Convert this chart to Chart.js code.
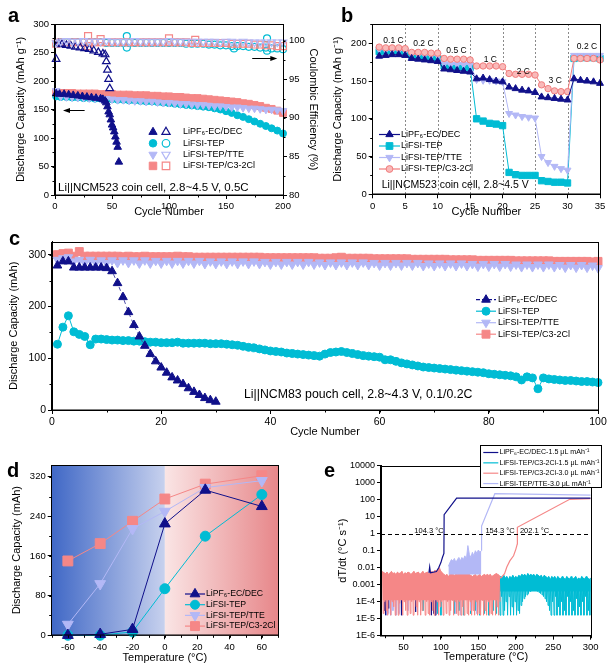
<!DOCTYPE html>
<html>
<head>
<meta charset="utf-8">
<script src="https://cdn.jsdelivr.net/npm/chart.js@4.4.0/dist/chart.umd.min.js"></script>
<style>
  body { margin: 0; background: #fff; }
  #page { position: relative; width: 614px; height: 665px; overflow: hidden; font-family: 'Liberation Sans', Arial, sans-serif; }
  #page canvas { position: absolute; }
  .tag { position: absolute; font-weight: bold; font-size: 20px; line-height: 20px; color: #000; }
</style>
</head>
<body>
<div id="page">
  <canvas id="chart-a" width="320" height="225" style="left:0;top:0"></canvas>
  <canvas id="chart-b" width="294" height="225" style="left:320px;top:0"></canvas>
  <canvas id="chart-c" width="614" height="217" style="left:0;top:228px"></canvas>
  <canvas id="chart-d" width="307" height="220" style="left:0;top:445px"></canvas>
  <canvas id="chart-e" width="307" height="225" style="left:307px;top:440px"></canvas>
  <div class="tag" style="left:8px;top:5px">a</div>
  <div class="tag" style="left:341px;top:5px">b</div>
  <div class="tag" style="left:9px;top:228px">c</div>
  <div class="tag" style="left:7px;top:460px">d</div>
  <div class="tag" style="left:324px;top:460px">e</div>
</div>
<script>
const FONT = "'Liberation Sans', Arial, Helvetica, sans-serif";
Chart.defaults.font.family = FONT;
Chart.defaults.color = '#000';
Chart.defaults.animation = false;
Chart.defaults.plugins.legend.display = false;
Chart.defaults.plugins.tooltip.enabled = false;

const NAVY = '#10108a';
const CYAN = '#00bcd4';
const LAV = '#b3b8f6';
const SALMON = '#f58787';

const names = ['LiPF₆-EC/DEC', 'LiFSI-TEP', 'LiFSI-TEP/TTE', 'LiFSI-TEP/C3-2Cl'];

// ---- panel a : long cycling, coin cell
const aCycles = [1,5,10,15,20,25,30,35,40,45,50,55,60,65,70,75,80,85,90,95,100,105,110,115,120,125,130,135,140,145,150,155,160,165,170,175,180,185,190,195,200];
const aTepCap = [173,172,172,171,171,170,170,169,169,168,168,167,167,166,166,165,164,164,163,162,161,160,159,158,157,156,155,154,152,150,147,144,140,137,133,129,125,121,117,113,108];
const aTteCap = [183,173,172,172,171,171,170,170,169,169,168,167,167,166,165,165,164,164,163,162,162,161,160,160,159,158,158,157,156,156,155,154,154,153,152,152,151,150,150,149,148];
const aClCap = [180,179,179,179,178,178,178,178,177,177,177,176,176,176,175,175,175,174,174,173,173,172,172,171,170,170,169,168,167,166,165,164,163,161,160,158,156,153,151,148,144];
const aTepCe = [99.6,99.8,99.8,99.8,99.8,99.8,99.8,99.8,99.8,99.7,99.7,99.7,99.7,99.7,99.7,99.7,99.7,99.7,99.7,99.7,99.7,99.7,99.7,99.6,99.6,99.6,99.6,99.5,99.5,99.4,99.4,99.3,99.3,99.3,99.2,99.2,99.1,99.1,99.0,99.0,98.9];
const aTteCe = [99.7,99.9,100.0,99.9,99.9,100.0,99.9,99.9,99.9,100.0,99.9,99.9,99.9,99.9,100.0,99.9,99.9,99.9,99.9,99.9,100.0,99.9,99.9,99.9,99.9,99.9,99.9,99.9,99.9,99.8,99.9,99.9,99.8,99.9,99.8,99.8,99.8,99.8,99.8,99.8,99.8];
const aClCe = [99.6,99.8,99.8,99.8,99.8,99.8,99.8,99.8,99.8,99.8,99.8,99.8,99.8,99.8,99.8,99.8,99.8,99.8,99.8,99.8,99.8,99.8,99.8,99.8,99.7,99.7,99.7,99.7,99.7,99.7,99.7,99.6,99.6,99.6,99.6,99.5,99.5,99.4,99.4,99.3,99.3];
const aTepCeOutCyc = [63, 63, 157, 186, 186];
const aTepCeOut = [100.6, 99.1, 99.0, 100.3, 98.7];
const aClCeOutCyc = [29, 29, 40, 100, 123];
const aClCeOut = [100.6, 99.3, 100.2, 100.3, 100.1];
const aPfCycles = [1,4,8,12,16,20,24,28,32,36,40,42,44,45,46,47,48,49,50,51,52,53,54,55,56];
const aPfCap = [178,177,177,176,175,174,173,172,171,170,169,168,165,162,155,146,141,132,123,118,111,102,93,84,58];
const aPfCeCycles = [1,3,6,10,14,18,22,26,30,34,38,42,44,45,46,47,48];
const aPfCe = [97.6,99.6,99.5,99.4,99.3,99.2,99.1,99.0,98.9,98.7,98.5,98.3,98.2,97.3,96.2,95.0,93.8];
const aArrows = [[26, 7, 149, 'y'], [173, 195, 97.8, 'y2']];
const aNote = 'Li||NCM523 coin cell, 2.8~4.5 V, 0.5C';

// ---- panel b : rate test
const bCycles = [1,2,3,4,5,6,7,8,9,10,11,12,13,14,15,16,17,18,19,20,21,22,23,24,25,26,27,28,29,30,31,32,33,34,35];
const bPf = [183,184,185,185,184,180,179,178,177,176,166,165,164,163,162,153,154,152,150,149,142,140,138,137,135,129,128,127,126,125,153,151,150,149,147];
const bTep = [189,190,190,190,189,184,183,182,181,180,170,169,169,168,168,100,97,94,93,91,29,26,25,25,25,18,17,16,16,15,180,181,181,181,180];
const bTte = [192,191,191,191,190,186,185,185,184,184,173,172,172,172,172,152,151,151,150,149,107,105,103,102,101,50,42,37,34,32,184,184,184,184,184];
const bCl = [195,194,194,194,193,188,188,188,187,187,180,179,179,179,178,170,170,170,170,169,160,159,159,159,158,145,140,137,136,136,180,180,180,180,178];
const bSteps = [5, 10, 15, 20, 25, 30];
const bRates = ['0.1 C', '0.2 C', '0.5 C', '1 C', '2 C', '3 C', '0.2 C'];
const bRateX = [3.2, 7.8, 12.9, 18.1, 23.2, 28.1, 33];
const bRateY = [204, 199, 190, 179, 162, 151, 196];
const bNote = 'Li||NCM523 coin cell, 2.8~4.5 V';

// ---- panel c : pouch cell
const cCycles = [1,2,3,4,5,6,7,8,9,10,11,12,13,14,15,16,17,18,19,20,21,22,23,24,25,26,27,28,29,30,31,32,33,34,35,36,37,38,39,40,41,42,43,44,45,46,47,48,49,50,51,52,53,54,55,56,57,58,59,60,61,62,63,64,65,66,67,68,69,70,71,72,73,74,75,76,77,78,79,80,81,82,83,84,85,86,87,88,89,90,91,92,93,94,95,96,97,98,99,100];
const cPf = [279,287,287,275,275,275,275,275,275,274,268,245,218,189,164,142,124,108,94,82,72,63,57,50,42,35,29,23,19,16];
const cTep = [127,160,182,151,146,142,126,137,137,136,
  135,135,134,134,133,133,132,131,131,130,
  130,130,131,129,129,129,129,129,128,128,
  128,127,126,125,123,121,120,118,116,114,
  113,112,110,109,108,107,106,105,104,108,
  111,112,113,111,109,107,105,104,103,102,
  97,97,94,91,89,87,85,83,82,81,
  80,79,78,77,76,75,74,73,72,70,
  69,68,67,66,64,58,64,62,41,62,
  60,59,58,57,57,56,55,55,54,53];
const cTte = [290,293,295,287,290,284,290,284,289,284,
  289,284,289,284,289,283,289,283,288,283,
  288,283,288,283,288,283,288,282,287,282,
  287,282,287,282,287,282,287,282,286,281,
  286,281,286,281,286,281,286,281,285,280,
  285,280,285,280,285,280,285,280,284,279,
  284,279,284,279,284,279,284,278,283,278,
  283,278,283,278,283,278,282,277,282,277,
  282,277,282,277,281,276,281,276,281,276,
  281,276,280,275,280,275,280,275,279,274];
const cCl = [300,302,303,297,306,297,297,297,297,297,
  297,297,296,297,296,296,297,296,296,296,
  296,296,297,296,296,295,295,295,295,295,
  295,295,295,295,295,295,295,295,294,294,
  294,294,294,294,294,294,294,294,293,293,
  293,294,295,293,293,293,293,293,292,292,
  292,292,292,292,292,291,291,291,291,291,
  291,291,290,290,290,290,290,289,289,289,
  289,289,289,289,288,288,288,288,288,288,
  288,287,287,287,287,287,287,287,286,287];
const cNote = 'Li||NCM83 pouch cell, 2.8~4.3 V, 0.1/0.2C';

// ---- panel d : temperature
const dTemps = [-60, -40, -20, 0, 25, 60];
const dPf = [0, 2, 12, 225, 293, 260];
const dTep = [0, 0, 7, 94, 200, 284];
const dTte = [22, 104, 215, 250, 298, 312];
const dCl = [150, 185, 230, 275, 305, 322];

// ---- panel e : ARC self-heating rate
// noise: top envelope every 2 °C, solid down to a floor, plus downward spikes
const eClStart = 22;
const eClFloor = 1.2e-4;
const eClTop = [6e-3,5e-3,4.5e-3,5.5e-3,4e-3,5e-3,6e-3,4.5e-3,5e-3,4e-3,
  5.5e-3,4.5e-3,5e-3,6e-3,4e-3,5e-3,4.5e-3,5.5e-3,5e-3,4e-3,
  5e-3,6e-3,4.5e-3,5e-3,5.5e-3,4e-3,5e-3,6e-3,4.5e-3,5e-3,
  5.5e-3,4.5e-3,5e-3,6e-3,5e-3,7e-3,6e-3,8e-3,1e-2,6e-3,
  5e-3,4e-3,3.5e-3,4e-3,3e-3,4e-3,5e-3,4e-3,3.5e-3,4.5e-3,
  4e-3,5e-3,4.5e-3,6e-3,5e-3,8e-3,6e-3,5e-3,4e-3,3.5e-3,
  3e-3,3.5e-3,4e-3,3e-3,3.5e-3,4e-3,3e-3,3.5e-3,4e-3,3.5e-3,
  4e-3,3.5e-3,4e-3,3e-3,3.5e-3,4e-3,4.5e-3,4e-3,3.5e-3];
const eClBot = [2e-5,1e-4,3e-5,1.6e-5,2e-4,1.6e-5,1e-4,5e-5,1.6e-5,1.5e-4,
  1.6e-5,8e-5,2e-4,1.6e-5,1e-4,3e-5,1.6e-5,1.2e-4,2e-5,1e-4,
  1.6e-5,2e-4,5e-5,1.6e-5,1e-4,1.6e-5,3e-5,1.5e-4,1.6e-5,1e-4,
  2e-5,1.6e-5,1e-4,3e-5,1.6e-5,2e-4,1e-4,1.6e-5,5e-5,1e-4,
  1.6e-5,1.5e-4,2e-5,1e-4,1.6e-5,3e-5,1.2e-4,1.6e-5,1e-4,2e-5,
  1.6e-5,1e-4,1.6e-5,5e-5,1.6e-5,1.5e-4,2e-5,1.6e-5,1e-4,1.6e-5,
  3e-5,1.6e-5,1e-4,1.6e-5,2e-5,1.6e-5,1.2e-4,1.6e-5,3e-5,1.6e-5,
  1e-4,1.6e-5,2e-5,1.6e-5,1.5e-4,1.6e-5,5e-5,1.6e-5,1e-4];
const eTepStart = 178;
const eTepFloor = 4e-4;
const eTepTop = [2.5e-3,3e-3,2.5e-3,3.5e-3,2.5e-3,3e-3,2e-3,3e-3,2.5e-3,3.5e-3,
  2.5e-3,3e-3,2.5e-3,3.5e-3,3e-3,4e-3,3.5e-3,4e-3,3e-3,4.5e-3,
  3.5e-3,4e-3,3.5e-3,4e-3,3e-3,4e-3,3.5e-3,3e-3,3.5e-3,2.5e-3,
  3.5e-3,3e-3,2.5e-3,3e-3,2e-3,3e-3,2.5e-3,3e-3,2e-3,3e-3,
  2.5e-3,2e-3,3e-3,2.5e-3,2e-3,3e-3,2.5e-3,2e-3,3e-3,2e-3,
  2.5e-3,3e-3,2e-3,2.5e-3,2e-3,3e-3,2.5e-3,2e-3,3e-3,2.5e-3,
  2e-3,2.5e-3];
const eTepBot = [1.6e-5,2e-4,1.6e-5,3e-5,1e-4,1.6e-5,2e-4,1.6e-5,5e-5,1.6e-5,
  1e-4,1.6e-5,3e-5,2e-5,6e-5,1e-4,1.5e-4,2e-4,2.5e-4,3e-4,
  4e-4,4.5e-4,5e-4,5e-4,4.5e-4,4e-4,3.5e-4,3e-4,2.5e-4,2e-4,
  1.5e-4,1e-4,6e-5,3e-5,1.6e-5,1e-4,1.6e-5,2e-4,1.6e-5,5e-5,
  1.6e-5,1e-4,1.6e-5,3e-5,1.6e-5,2e-4,1.6e-5,1e-4,1.6e-5,3e-5,
  1.6e-5,1.5e-4,1.6e-5,5e-5,1.6e-5,1e-4,1.6e-5,2e-4,1.6e-5,3e-5,
  1.6e-5,1e-4];
const eTteStart = 110;
const eTteFloor = 4e-3;
const eTteTop = [1.2e-2,2e-2,3e-2,2.5e-2,3.5e-2,2e-2,3e-2,4e-2,2.5e-2,4e-2,3e-2,5e-2,3e-2,2e-1,6e-2,4e-2,8e-2,5e-2,1e-1,7e-2,1.1e-1,8e-2,1e-1];
const eTteRiseT = [154.3, 154.3, 172, 300];
const eTteRise = [0.1, 2.8, 225, 185];
const eClRampT = [178, 180, 185, 188, 192, 197, 200, 202, 202.1, 272, 300];
const eClRamp = [3e-3, 2.5e-3, 4.5e-3, 1.1e-2, 2.5e-2, 5e-2, 1.2e-1, 2.5e-1, 2.4, 105, 115];
const eNavyT = [84, 85, 86, 94, 97, 100, 102, 104, 104.3, 121, 300];
const eNavy = [5e-3, 1.1e-2, 5e-3, 6e-3, 1e-2, 2e-2, 4e-2, 7e-2, 13, 125, 125];
// spikes of the other cells that poke out below the salmon noise
const eNavySpikeT = [25, 26, 30, 47, 66, 87, 90, 93];
const eNavySpikeV = [3e-5, 1.6e-5, 4e-5, 1.6e-5, 2.5e-5, 1.6e-5, 2e-5, 1.6e-5];
const eTteSpikeT = [28, 30, 33, 36, 40, 44, 48, 56, 120, 126, 140, 148];
const eTteSpikeV = [1.6e-5, 2e-5, 1.6e-5, 3e-5, 1.6e-5, 2e-5, 1.6e-5, 3e-5, 2e-5, 1.6e-5, 3e-5, 2e-5];
const eTepSpikeT = [76, 96, 100, 118, 124, 130, 140, 146, 152, 158, 164, 170, 174];
const eTepSpikeV = [3e-5, 2e-5, 1.6e-5, 2e-5, 3e-5, 1.6e-5, 2e-5, 3e-5, 1.6e-5, 2e-5, 1.6e-5, 3e-5, 2e-5];
const eOnset = 1;
const eMarkT = [84, 179, 225];
const eMarkText = ['104.3 °C', '154.3 °C', '202.1 °C'];
const eTickVals = [1e-6, 1e-5, 1e-4, 1e-3, 1e-2, 1e-1, 1, 10, 100, 1000, 10000];
const eTickLabels = ['1E-6', '1E-5', '1E-4', '0.001', '0.01', '0.1', '1', '10', '100', '1000', '10000'];
const eNames = ['LiPF₆-EC/DEC-1.5 μL mAh⁻¹', 'LiFSI-TEP/C3-2Cl-1.5 μL mAh⁻¹', 'LiFSI-TEP/C3-2Cl-3.0 μL mAh⁻¹', 'LiFSI-TEP/TTE-3.0 μL mAh⁻¹'];

// ---------- helpers
function pts(xs, ys) {
  return ys.map((y, i) => ({ x: xs[i], y: y }));
}

// typed values sampled on an even temperature grid
function onGrid(start, step, vals) {
  return vals.map((v, i) => ({ x: start + i * step, y: v }));
}

// downward spikes: top value then bottom value half a step later
function zigzag(start, step, tops, bots) {
  const out = [];
  tops.forEach((t, i) => {
    out.push({ x: start + i * step, y: t });
    out.push({ x: start + i * step + step / 2, y: bots[i] });
  });
  return out;
}

function spikes(ts, vs, base) {
  const out = [];
  ts.forEach((t, i) => {
    out.push({ x: t, y: base }, { x: t, y: vs[i] }, { x: t + 0.6, y: base });
  });
  return out;
}

const R = { circle: 1, rect: 1.4, triangle: 1.25, triangleDown: 1.25 };

function marks(xs, ys, style, color, o) {
  o = o || {};
  const base = o.r || 3.5;
  return {
    data: pts(xs, ys),
    pointStyle: style === 'triangleDown' ? 'triangle' : style,
    pointRotation: style === 'triangleDown' ? 180 : 0,
    pointRadius: base * R[style],
    pointBackgroundColor: o.open ? 'rgba(255,255,255,0)' : (o.fill || color),
    pointBorderColor: o.edge || color,
    pointBorderWidth: o.open ? 1.2 : 1,
    borderColor: o.lineColor || color,
    borderWidth: o.lw || 1,
    borderDash: o.dash || [],
    showLine: !!o.line,
    clip: false,
    order: o.order || 0,
    yAxisID: o.axis || 'y'
  };
}

function trace(data, color, order, lw) {
  return { data: data, borderColor: color, borderWidth: lw || 1, pointRadius: 0, showLine: true, order: order };
}

function band(data, color, floor, order) {
  return { data: data, borderColor: color, backgroundColor: color, borderWidth: 1, pointRadius: 0, showLine: true, fill: { value: floor }, order: order };
}

function axis(o) {
  const horiz = o.pos === 'bottom';
  return {
    type: o.type || 'linear',
    position: o.pos,
    min: o.min,
    max: o.max,
    grid: { drawOnChartArea: false, drawTicks: true, tickLength: 4, tickColor: '#000', color: '#000' },
    border: { display: true, color: '#000', width: 1 },
    ticks: {
      color: '#000', padding: 2, autoSkip: false, maxRotation: 0,
      font: { size: o.tickSize || 9.5 },
      callback: o.fmt || (v => String(v))
    },
    title: {
      display: !!o.title, text: o.title, color: '#000',
      font: { size: o.titleSize || 11 },
      padding: horiz ? { top: 0, bottom: o.titlePad } : { top: o.titlePad, bottom: 0 }
    },
    afterBuildTicks: s => { s.ticks = o.ticks.map(v => ({ value: v })); },
    afterFit: s => { if (horiz) s.height = o.size; else s.width = o.size; }
  };
}

function drawMark(ctx, style, x, y, r, fill, stroke, lw) {
  ctx.save();
  ctx.beginPath();
  if (style === 'circle') {
    ctx.arc(x, y, r, 0, Math.PI * 2);
  } else if (style === 'rect') {
    const h = r * Math.SQRT1_2;
    ctx.rect(x - h, y - h, 2 * h, 2 * h);
  } else {
    const rot = style === 'triangleDown' ? Math.PI : 0;
    for (let k = 0; k < 3; k++) {
      const a = rot + k * 2 * Math.PI / 3;
      const px = x + Math.sin(a) * r, py = y - Math.cos(a) * r;
      if (k) ctx.lineTo(px, py); else ctx.moveTo(px, py);
    }
    ctx.closePath();
  }
  if (fill) { ctx.fillStyle = fill; ctx.fill(); }
  if (stroke) { ctx.strokeStyle = stroke; ctx.lineWidth = lw || 1; ctx.stroke(); }
  ctx.restore();
}

function drawLegend(ctx, rows, o) {
  ctx.save();
  ctx.font = o.font;
  ctx.textBaseline = 'middle';
  rows.forEach((r, i) => {
    const y = o.y + i * o.dy;
    if (o.line) {
      ctx.beginPath();
      ctx.setLineDash(r.dash || []);
      ctx.strokeStyle = r.color;
      ctx.lineWidth = o.lw || 1.2;
      ctx.moveTo(o.line[0], y);
      ctx.lineTo(o.line[1], y);
      ctx.stroke();
      ctx.setLineDash([]);
    }
    (o.marks || []).forEach((mx, k) => {
      const open = k === 1;
      drawMark(ctx, r.style, mx, y, o.r * R[r.style], open ? null : (r.fill || r.color), r.edge || r.color, open ? 1.2 : 1);
    });
    ctx.fillStyle = '#000';
    ctx.fillText(r.label, o.textX, y);
  });
  ctx.restore();
}

const frame = {
  id: 'frame',
  afterDraw(chart) {
    const { ctx, chartArea: a } = chart;
    ctx.save();
    ctx.strokeStyle = '#000';
    ctx.lineWidth = 1;
    ctx.strokeRect(Math.round(a.left) - 0.5, Math.round(a.top) + 0.5, Math.round(a.right) - Math.round(a.left) + 1, Math.round(a.bottom) - Math.round(a.top) - 0.5);
    ctx.restore();
  }
};

const minorTicks = {
  id: 'minorTicks',
  afterDraw(chart, args, opts) {
    const ctx = chart.ctx;
    ctx.save();
    ctx.strokeStyle = '#000';
    ctx.lineWidth = 1;
    Object.keys(opts).forEach(id => {
      const s = chart.scales[id];
      const step = opts[id];
      if (!s || typeof step !== 'number') return;
      for (let v = Math.ceil(s.min / step) * step; v <= s.max + 1e-9; v += step) {
        const p = Math.round(s.getPixelForValue(v)) + 0.5;
        ctx.beginPath();
        if (s.isHorizontal()) { ctx.moveTo(p, s.top); ctx.lineTo(p, s.top + 2.5); }
        else if (s.position === 'left') { ctx.moveTo(s.right, p); ctx.lineTo(s.right - 2.5, p); }
        else { ctx.moveTo(s.left, p); ctx.lineTo(s.left + 2.5, p); }
        ctx.stroke();
      }
    });
    ctx.restore();
  }
};

const legendRows = [
  { label: names[0], color: NAVY, style: 'triangle' },
  { label: names[1], color: CYAN, style: 'circle' },
  { label: names[2], color: LAV, style: 'triangleDown' },
  { label: names[3], color: SALMON, style: 'rect' }
];

function arrow(ctx, x0, x1, y) {
  const dir = Math.sign(x1 - x0);
  ctx.beginPath();
  ctx.moveTo(x0, y);
  ctx.lineTo(x1 - dir * 4, y);
  ctx.stroke();
  ctx.beginPath();
  ctx.moveTo(x1, y);
  ctx.lineTo(x1 - dir * 7, y - 2.5);
  ctx.lineTo(x1 - dir * 7, y + 2.5);
  ctx.closePath();
  ctx.fill();
}

// ---------- panel a
new Chart(document.getElementById('chart-a'), {
  type: 'scatter',
  data: {
    datasets: [
      marks(aCycles, aTepCap, 'circle', CYAN, { order: 8 }),
      marks(aCycles, aClCap, 'rect', SALMON, { order: 7 }),
      marks(aCycles, aTteCap, 'triangleDown', LAV, { order: 6 }),
      marks(aPfCycles, aPfCap, 'triangle', NAVY, { order: 5 }),
      marks(aCycles, aTepCe, 'circle', CYAN, { open: true, axis: 'y2', order: 4 }),
      marks(aTepCeOutCyc, aTepCeOut, 'circle', CYAN, { open: true, axis: 'y2', order: 4 }),
      marks(aCycles, aClCe, 'rect', SALMON, { open: true, axis: 'y2', order: 3 }),
      marks(aClCeOutCyc, aClCeOut, 'rect', SALMON, { open: true, axis: 'y2', order: 3 }),
      marks(aPfCeCycles, aPfCe, 'triangle', NAVY, { open: true, axis: 'y2', order: 2 }),
      marks(aCycles, aTteCe, 'triangleDown', LAV, { open: true, axis: 'y2', order: 1 })
    ]
  },
  options: {
    responsive: false, devicePixelRatio: 1,
    layout: { padding: { top: 24, right: 0, bottom: 0, left: 0 } },
    scales: {
      x: axis({ pos: 'bottom', min: 0, max: 200, ticks: [0, 50, 100, 150, 200], title: 'Cycle Number', size: 30, titlePad: 6.4 }),
      y: axis({ pos: 'left', min: 0, max: 300, ticks: [0, 50, 100, 150, 200, 250, 300], title: 'Discharge Capacity (mAh g⁻¹)', size: 55, titlePad: 14.1 }),
      y2: axis({ pos: 'right', min: 80, max: 102.16, ticks: [80, 85, 90, 95, 100], title: 'Coulombic Efficiency (%)', size: 37, titlePad: 0 })
    },
    plugins: { minorTicks: { x: 25, y: 25, y2: 2.5 } }
  },
  plugins: [frame, minorTicks, {
    id: 'annoA',
    afterDraw(chart) {
      const { ctx, chartArea: ar, scales } = chart;
      ctx.save();
      ctx.strokeStyle = '#000';
      ctx.fillStyle = '#000';
      ctx.lineWidth = 1;
      aArrows.forEach(([c0, c1, v, id]) => {
        arrow(ctx, scales.x.getPixelForValue(c0), scales.x.getPixelForValue(c1), Math.round(scales[id].getPixelForValue(v)) + 0.5);
      });
      ctx.font = '11.5px ' + FONT;
      ctx.textBaseline = 'middle';
      ctx.fillText(aNote, ar.left + 3, ar.bottom - 7);
      ctx.restore();
      drawLegend(ctx, legendRows, { font: '9px ' + FONT, y: 132, dy: 11.3, marks: [153, 166], r: 3.8, textX: 183 });
    }
  }]
});

// ---------- panel b
new Chart(document.getElementById('chart-b'), {
  type: 'scatter',
  data: {
    datasets: [
      marks(bCycles, bTep, 'rect', CYAN, { r: 3.2, line: true, order: 4 }),
      marks(bCycles, bTte, 'triangleDown', LAV, { r: 3.2, line: true, order: 3 }),
      marks(bCycles, bCl, 'circle', '#f07c7c', { r: 3.2, line: true, fill: '#f9b9b9', order: 2 }),
      marks(bCycles, bPf, 'triangle', NAVY, { r: 3.2, line: true, order: 1 })
    ]
  },
  options: {
    responsive: false, devicePixelRatio: 1,
    layout: { padding: { top: 24, right: 14, bottom: 0, left: 0 } },
    scales: {
      x: axis({ pos: 'bottom', min: 0, max: 35, ticks: [0, 5, 10, 15, 20, 25, 30, 35], title: 'Cycle Number', size: 30.7, titlePad: 6.4 }),
      y: axis({ pos: 'left', min: 0, max: 225.6, ticks: [0, 50, 100, 150, 200], title: 'Discharge Capacity (mAh g⁻¹)', size: 52.7, titlePad: 11.4 })
    },
    plugins: { minorTicks: { y: 25 } }
  },
  plugins: [{
    id: 'stepsB',
    beforeDatasetsDraw(chart) {
      const { ctx, chartArea: ar, scales } = chart;
      ctx.save();
      ctx.strokeStyle = '#8a8a8a';
      ctx.lineWidth = 1;
      ctx.setLineDash([2, 2]);
      bSteps.forEach(c => {
        const x = Math.round(scales.x.getPixelForValue(c)) + 0.5;
        ctx.beginPath();
        ctx.moveTo(x, ar.top);
        ctx.lineTo(x, ar.bottom);
        ctx.stroke();
      });
      ctx.restore();
    }
  }, frame, minorTicks, {
    id: 'annoB',
    afterDraw(chart) {
      const { ctx, chartArea: ar, scales } = chart;
      ctx.save();
      ctx.fillStyle = '#000';
      ctx.font = '8.5px ' + FONT;
      ctx.textAlign = 'center';
      ctx.textBaseline = 'middle';
      bRates.forEach((t, i) => ctx.fillText(t, scales.x.getPixelForValue(bRateX[i]), scales.y.getPixelForValue(bRateY[i])));
      ctx.textAlign = 'left';
      ctx.font = '10.5px ' + FONT;
      ctx.fillText(bNote, ar.left + 9, ar.bottom - 9);
      ctx.restore();
      const rows = legendRows.map(r => Object.assign({}, r));
      rows[1].style = 'rect';
      rows[3] = { label: names[3], color: '#f07c7c', style: 'circle', fill: '#f9b9b9' };
      drawLegend(ctx, rows, { font: '9px ' + FONT, y: 134.5, dy: 11.5, line: [59, 80], marks: [69.5], r: 3.4, textX: 81 });
    }
  }]
});

// ---------- panel c
new Chart(document.getElementById('chart-c'), {
  type: 'scatter',
  data: {
    datasets: [
      marks(cCycles, cTep, 'circle', CYAN, { r: 4, line: true, order: 4 }),
      marks(cCycles, cCl, 'rect', SALMON, { r: 4, line: true, order: 3 }),
      marks(cCycles, cTte, 'triangleDown', LAV, { r: 4, line: true, order: 2 }),
      marks(cCycles, cPf, 'triangle', NAVY, { r: 4, line: true, dash: [4, 3], lineColor: '#4a4aa8', order: 1 })
    ]
  },
  options: {
    responsive: false, devicePixelRatio: 1,
    layout: { padding: { top: 13.7, right: 16, bottom: 0, left: 0 } },
    scales: {
      x: axis({ pos: 'bottom', min: 0, max: 100, ticks: [0, 20, 40, 60, 80, 100], title: 'Cycle Number', size: 35, titlePad: 6.4, tickSize: 10.5 }),
      y: axis({ pos: 'left', min: 0, max: 325, ticks: [0, 100, 200, 300], title: 'Discharge Capacity (mAh)', size: 52, titlePad: 7.4, tickSize: 10.5 })
    },
    plugins: { minorTicks: { x: 10, y: 50 } }
  },
  plugins: [frame, minorTicks, {
    id: 'annoC',
    afterDraw(chart) {
      const ctx = chart.ctx;
      ctx.save();
      ctx.fillStyle = '#000';
      ctx.font = '12.3px ' + FONT;
      ctx.textBaseline = 'middle';
      ctx.fillText(cNote, 244, 167);
      ctx.restore();
      const rows = legendRows.map(r => Object.assign({}, r));
      rows[0].dash = [4, 2];
      drawLegend(ctx, rows, { font: '9px ' + FONT, y: 71.7, dy: 11.5, line: [476, 496], marks: [486], r: 4, textX: 498 });
    }
  }]
});

// ---------- panel d
new Chart(document.getElementById('chart-d'), {
  type: 'scatter',
  data: {
    datasets: [
      marks(dTemps, dCl, 'rect', SALMON, { r: 5, line: true, order: 4 }),
      marks(dTemps, dTte, 'triangleDown', LAV, { r: 5, line: true, order: 3 }),
      marks(dTemps, dTep, 'circle', CYAN, { r: 5, line: true, order: 2 }),
      marks(dTemps, dPf, 'triangle', NAVY, { r: 5, line: true, order: 1 })
    ]
  },
  options: {
    responsive: false, devicePixelRatio: 1,
    layout: { padding: { top: 20, right: 29, bottom: 0, left: 0 } },
    scales: {
      x: axis({ pos: 'bottom', min: -70, max: 70, ticks: [-60, -40, -20, 0, 20, 40, 60], title: 'Temperature (°C)', size: 29.7, titlePad: 0.4 }),
      y: axis({ pos: 'left', min: 0, max: 343.6, ticks: [0, 80, 160, 240, 320], title: 'Discharge Capacity (mAh)', size: 51.7, titlePad: 10.1 })
    },
    plugins: { minorTicks: { x: 10, y: 40 } }
  },
  plugins: [{
    id: 'bgD',
    beforeDatasetsDraw(chart) {
      const { ctx, chartArea: ar, scales } = chart;
      const x0 = scales.x.getPixelForValue(0);
      ctx.save();
      const g1 = ctx.createLinearGradient(ar.left, 0, x0, 0);
      g1.addColorStop(0, '#4068c6');
      g1.addColorStop(1, '#c7d1ee');
      ctx.fillStyle = g1;
      ctx.fillRect(ar.left, ar.top, x0 - ar.left, ar.bottom - ar.top);
      const g2 = ctx.createLinearGradient(x0, 0, ar.right, 0);
      g2.addColorStop(0, '#fae5e5');
      g2.addColorStop(1, '#e7878a');
      ctx.fillStyle = g2;
      ctx.fillRect(x0, ar.top, ar.right - x0, ar.bottom - ar.top);
      ctx.restore();
    }
  }, frame, minorTicks, {
    id: 'annoD',
    afterDraw(chart) {
      drawLegend(chart.ctx, legendRows, { font: '8.7px ' + FONT, y: 149, dy: 10.7, line: [185, 205], marks: [195], r: 4.5, textX: 206 });
    }
  }]
});

// ---------- panel e
new Chart(document.getElementById('chart-e'), {
  type: 'scatter',
  data: {
    datasets: [
      trace(spikes(eTepSpikeT, eTepSpikeV, 5e-4), CYAN, 12, 1),
      trace(spikes(eTteSpikeT, eTteSpikeV, 5e-4), LAV, 11, 1),
      trace(spikes(eNavySpikeT, eNavySpikeV, 5e-4), NAVY, 10, 1),
      trace(zigzag(eTepStart, 2, eTepTop, eTepBot), CYAN, 9, 1),
      band(onGrid(eTepStart, 2, eTepTop), CYAN, eTepFloor, 8),
      trace(zigzag(eClStart, 2, eClTop, eClBot), SALMON, 7, 1),
      band(onGrid(eClStart, 2, eClTop), SALMON, eClFloor, 6),
      band(onGrid(eTteStart, 2, eTteTop), LAV, eTteFloor, 5),
      trace(pts(eClRampT, eClRamp), SALMON, 4, 1.2),
      trace(pts(eTteRiseT, eTteRise), LAV, 3, 1.2),
      trace(pts(eNavyT, eNavy), NAVY, 2, 1.2)
    ]
  },
  options: {
    responsive: false, devicePixelRatio: 1,
    layout: { padding: { top: 25.7, right: 23.3, bottom: 0, left: 0 } },
    scales: {
      x: axis({ pos: 'bottom', min: 20, max: 300, ticks: [50, 100, 150, 200, 250, 300], title: 'Temperature (°C)', size: 29.3, titlePad: 1.7 }),
      y: axis({ type: 'logarithmic', pos: 'left', min: 1e-6, max: 1e4, ticks: eTickVals, title: 'dT/dt (°C s⁻¹)', size: 74, titlePad: 29.7, tickSize: 9,
        fmt: v => eTickLabels[eTickVals.indexOf(v)] })
    },
    plugins: { minorTicks: { x: 25 } }
  },
  plugins: [frame, minorTicks, {
    id: 'annoE',
    afterDraw(chart) {
      const { ctx, chartArea: ar, scales } = chart;
      const y1 = Math.round(scales.y.getPixelForValue(eOnset)) + 0.5;
      ctx.save();
      ctx.strokeStyle = '#000';
      ctx.lineWidth = 1;
      ctx.setLineDash([4, 3]);
      ctx.beginPath();
      ctx.moveTo(ar.left, y1);
      ctx.lineTo(ar.right, y1);
      ctx.stroke();
      ctx.setLineDash([]);
      ctx.fillStyle = '#000';
      ctx.font = '7.5px ' + FONT;
      ctx.textAlign = 'center';
      ctx.textBaseline = 'alphabetic';
      eMarkText.forEach((t, i) => ctx.fillText(t, scales.x.getPixelForValue(eMarkT[i]), y1 - 1.5));
      // legend box
      ctx.fillStyle = '#fff';
      ctx.fillRect(173.5, 5.5, 121, 42);
      ctx.strokeRect(173.5, 5.5, 121, 42);
      ctx.restore();
      const rows = [
        { label: eNames[0], color: NAVY },
        { label: eNames[1], color: CYAN },
        { label: eNames[2], color: SALMON },
        { label: eNames[3], color: LAV }
      ];
      drawLegend(ctx, rows, { font: '7.1px ' + FONT, y: 12.5, dy: 10.35, line: [176.3, 191.3], textX: 192.5 });
    }
  }]
});
</script>
</body>
</html>
